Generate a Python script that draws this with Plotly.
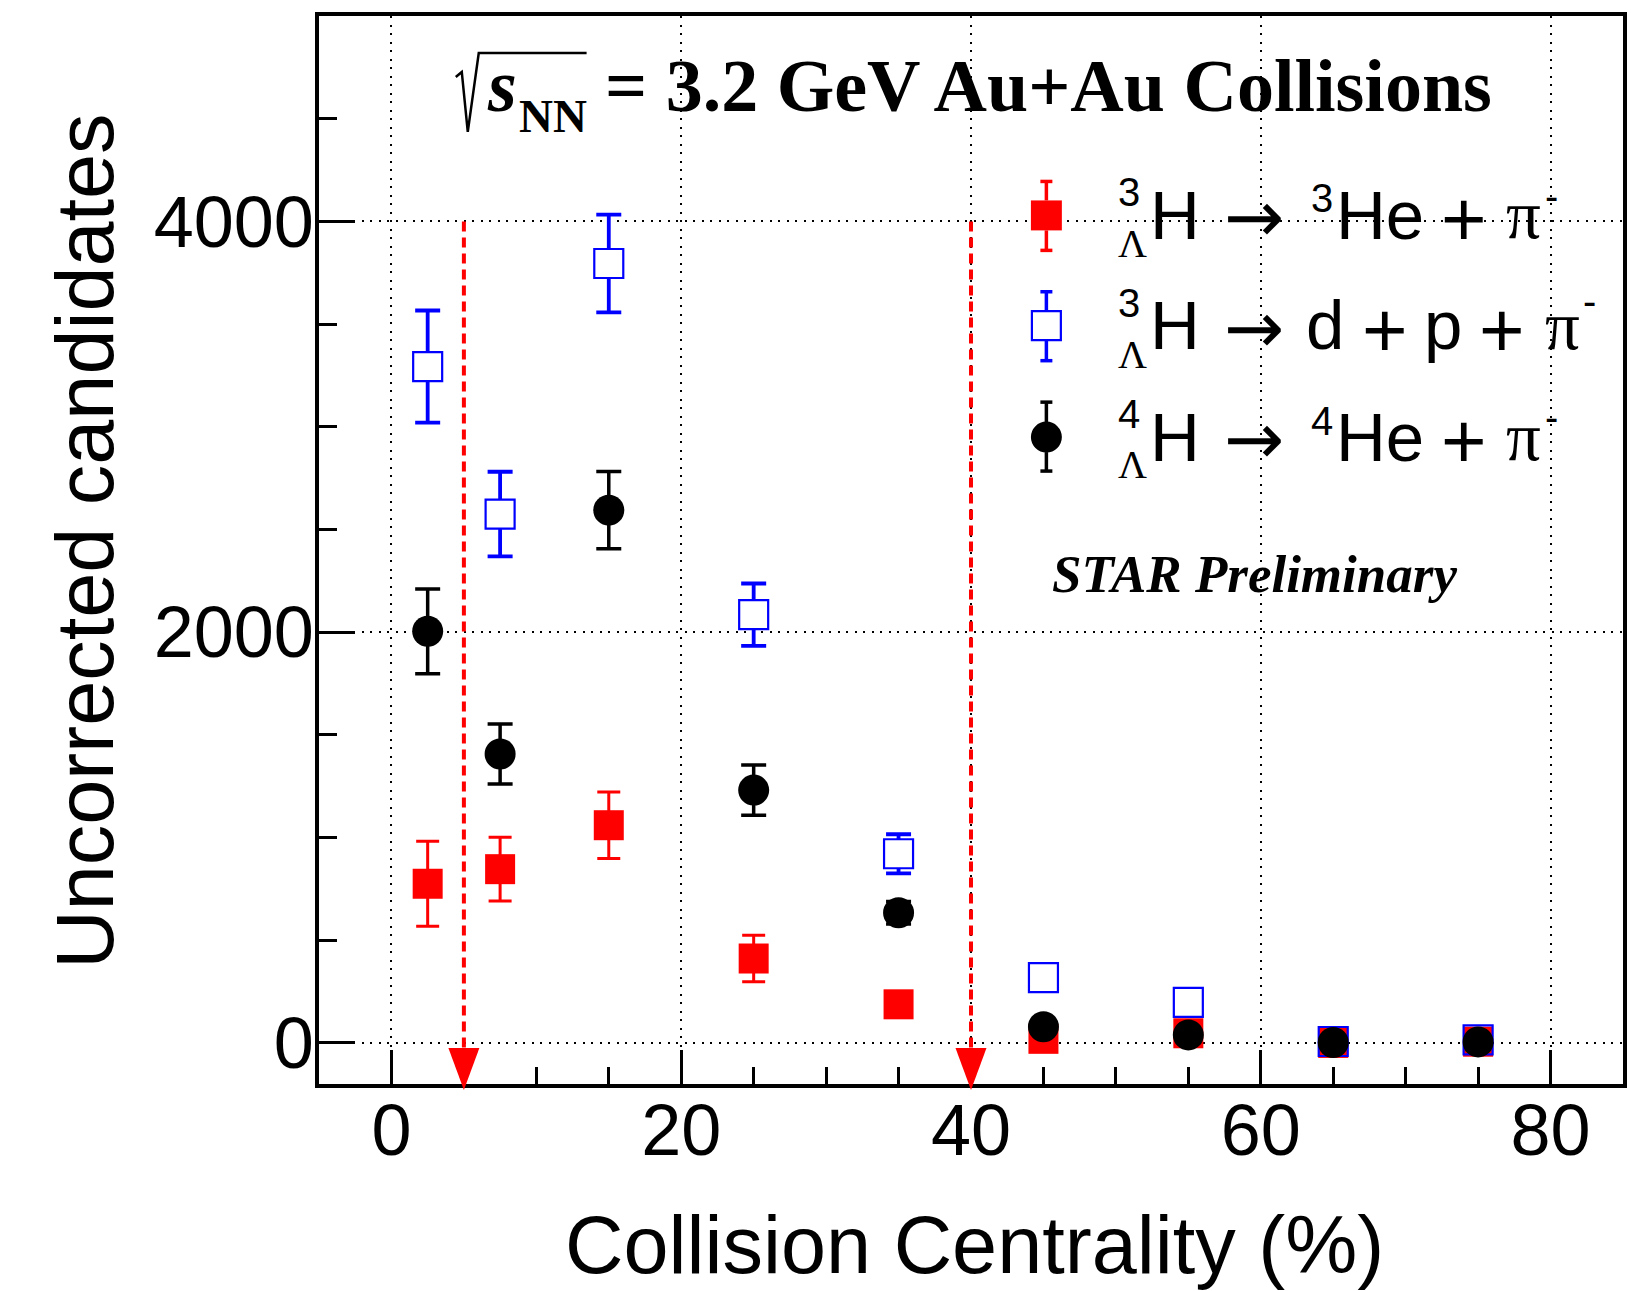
import plotly.graph_objects as go

# ---------------------------------------------------------------- data
centrality = [2.5, 7.5, 15, 25, 35, 45, 55, 65, 75]

# 3ΛH -> 3He + π-
h3l_2body = [775, 846, 1060, 411, 188, 20, 47, 0, 6]
h3l_2body_err = [207, 155, 162, 113, 60, 20, 25, 5, 8]

# 3ΛH -> d + p + π-
h3l_3body = [3293, 2575, 3795, 2085, 921, 318, 197, 7, 15]
h3l_3body_err = [273, 206, 238, 152, 95, 60, 50, 15, 15]

# 4ΛH -> 4He + π-
h4l_2body = [2004, 1407, 2594, 1231, 634, 79, 39, 2, 5]
h4l_2body_err = [206, 146, 188, 122, 55, 35, 25, 8, 10]

# centrality window used in the analysis (marked by red arrows)
cut_edges = [5, 40]
cut_top = 4000

x_tick_vals = [0, 20, 40, 60, 80]
x_tick_text = ["0", "20", "40", "60", "80"]
y_tick_vals = [0, 2000, 4000]
y_tick_text = ["0", "2000", "4000"]

# ---------------------------------------------------------------- style
RED = "#ff0000"
BLUE = "#0000ff"
BLACK = "#000000"
SANS = "Liberation Sans"
SERIF = "Liberation Serif"
ARROW_FONT = "DejaVu Sans"

W, H = 1639, 1291
L, R, T, B = 319, 1625, 15, 1084   # frame edges in pixels


def px(xp):
    return (xp - L) / (R - L)


def py(yp):
    return (B - yp) / (B - T)


def errbar(vals, color, thick=3.5, half=12.5):
    return dict(type="data", array=vals, visible=True, color=color,
                thickness=thick, width=half)


fig = go.Figure()

# white backing for the open squares so the error bars do not cross them
fig.add_trace(go.Scatter(
    x=centrality, y=h3l_3body, mode="markers",
    marker=dict(symbol="square", size=29, color="white", line=dict(width=0)),
    error_y=errbar(h3l_3body_err, BLUE, 3.8, 12.5),
    hoverinfo="skip", showlegend=False))

fig.add_trace(go.Scatter(
    x=centrality, y=h3l_2body, mode="markers",
    marker=dict(symbol="square", size=30, color=RED, line=dict(width=0)),
    error_y=errbar(h3l_2body_err, RED, 3.0, 11.5),
    showlegend=False))

fig.add_trace(go.Scatter(
    x=centrality, y=h3l_3body, mode="markers",
    marker=dict(symbol="square-open", size=29, color=BLUE,
                line=dict(width=2.2, color=BLUE)),
    showlegend=False))

fig.add_trace(go.Scatter(
    x=centrality, y=h4l_2body, mode="markers",
    marker=dict(symbol="circle", size=31, color=BLACK, line=dict(width=0)),
    error_y=errbar(h4l_2body_err, BLACK, 3.5, 12.5),
    showlegend=False))

# ---------------------------------------------------------------- axes
grid = dict(showgrid=True, gridcolor=BLACK, gridwidth=2, griddash="2px,6.5px",
            showline=True, linecolor=BLACK, linewidth=3.5, mirror=True,
            zeroline=False, ticks="inside", tickcolor=BLACK, tickwidth=3,
            tickfont=dict(family=SANS, size=72, color=BLACK))

fig.update_xaxes(range=[-5, 85], tickmode="array", tickvals=x_tick_vals,
                 ticktext=x_tick_text, ticklen=34, ticklabelstandoff=-19,
                 minor=dict(tick0=0, dtick=5, ticks="inside", ticklen=17,
                            tickwidth=3, tickcolor=BLACK, showgrid=False),
                 **grid)
fig.update_yaxes(range=[-200, 5000], tickmode="array", tickvals=y_tick_vals,
                 ticktext=y_tick_text, ticklen=36, ticklabelstandoff=-13,
                 minor=dict(tick0=0, dtick=500, ticks="inside", ticklen=18,
                            tickwidth=3, tickcolor=BLACK, showgrid=False),
                 **grid)

# ---------------------------------------------------------------- cut arrows
for c in cut_edges:
    fig.add_shape(type="line", xref="x", yref="y", x0=c, x1=c,
                  y0=cut_top, y1=-30,
                  line=dict(color=RED, width=4, dash="10px,6px"))
    fig.add_shape(type="path", xref="x", yref="paper",
                  xsizemode="pixel", ysizemode="pixel", xanchor=c, yanchor=0,
                  path="M -15.5,36 L 15.5,36 L 0,-6 Z",
                  fillcolor=RED, line=dict(color=RED, width=0))


# ---------------------------------------------------------------- text
def label(text, xp, yp, size, family=SANS, weight="normal", style="normal",
          xanchor="center", angle=0):
    fig.add_annotation(text=text, x=px(xp), y=py(yp), xref="paper",
                       yref="paper", xanchor=xanchor, yanchor="middle",
                       showarrow=False, textangle=angle, borderpad=0,
                       font=dict(family=family, size=size, color=BLACK,
                                 weight=weight, style=style))


# axis titles
label("Collision Centrality (%)", 976, 1245, 81)
label("Uncorrected candidates", 84, 541, 81, angle=-90)

# energy header with a drawn radical sign
label("s", 502.5, 84.7, 74, SERIF, weight="bold", style="italic")
label("NN", 553, 115, 47, SERIF, weight="bold")
label("= 3.2 GeV Au+Au Collisions", 1049.5, 84.7, 74, SERIF, weight="bold")
rad = [(456, 76), (462, 71), (468, 131), (479, 52), (587, 52)]
fig.add_shape(type="path", xref="paper", yref="paper",
              path="M " + " L ".join(f"{px(a):.5f},{py(b):.5f}" for a, b in rad),
              line=dict(color=BLACK, width=2.5))

label("STAR Preliminary", 1256, 574, 53, SERIF, weight="bold", style="italic")

# ---------------------------------------------------------------- legend
leg_x = 1047.5
row_y = [214.6, 325.0, 436.5]
leg_color = [RED, BLUE, BLACK]
leg_err = [(34, 35), (34, 35), (35, 34)]


def seg(x0, y0, x1, y1, color, width):
    fig.add_shape(type="line", xref="paper", yref="paper",
                  x0=px(x0), y0=py(y0), x1=px(x1), y1=py(y1),
                  line=dict(color=color, width=width))


for i, (yc, col) in enumerate(zip(row_y, leg_color)):
    up, dn = leg_err[i]
    seg(leg_x, yc - up, leg_x, yc - 15, col, 3.5)
    seg(leg_x, yc + 15, leg_x, yc + dn, col, 3.5)
    seg(leg_x - 6, yc - up, leg_x + 6, yc - up, col, 3.5)
    seg(leg_x - 6, yc + dn, leg_x + 6, yc + dn, col, 3.5)
    if i == 0:
        fig.add_shape(type="rect", xref="paper", yref="paper",
                      x0=px(leg_x - 15.5), x1=px(leg_x + 15.5),
                      y0=py(yc + 15), y1=py(yc - 15),
                      fillcolor=RED, line=dict(width=0))
    elif i == 1:
        fig.add_shape(type="rect", xref="paper", yref="paper",
                      x0=px(leg_x - 14.5), x1=px(leg_x + 14.5),
                      y0=py(yc + 14.5), y1=py(yc - 14.5),
                      fillcolor="white", line=dict(color=BLUE, width=2.2))
    else:
        fig.add_shape(type="circle", xref="paper", yref="paper",
                      x0=px(leg_x - 15.5), x1=px(leg_x + 15.5),
                      y0=py(yc + 15.5), y1=py(yc - 15.5),
                      fillcolor=BLACK, line=dict(width=0))

# (text, x centre, vertical offset from row centre, size, family)
PLUS = 78
PLUS_DY = 4
legend_rows = [
    [("3", 1130.5, -23.5, 40, SANS), ("Λ", 1134, 28, 40, SERIF),
     ("H", 1176, 0, 69, SANS), ("→", 1255.5, 2, 72, ARROW_FONT),
     ("3", 1323.5, -17, 40, SANS), ("He", 1381.5, 0, 69, SANS),
     ("+", 1466, PLUS_DY, PLUS, SANS), ("π", 1525.5, 0, 69, SERIF),
     ("-", 1553, -19, 40, SANS)],
    [("3", 1130.5, -23, 40, SANS), ("Λ", 1134, 28.5, 40, SERIF),
     ("H", 1176, 0, 69, SANS), ("→", 1255.5, 2, 72, ARROW_FONT),
     ("d", 1326.3, 0, 69, SANS), ("+", 1386.5, PLUS_DY, PLUS, SANS),
     ("p", 1445, 0, 69, SANS), ("+", 1503.5, PLUS_DY, PLUS, SANS),
     ("π", 1564.5, 0, 69, SERIF), ("-", 1591, -25, 40, SANS)],
    [("4", 1130.5, -23.5, 40, SANS), ("Λ", 1134, 27, 40, SERIF),
     ("H", 1176, 0, 69, SANS), ("→", 1255.5, 2, 72, ARROW_FONT),
     ("4", 1323.5, -16.5, 40, SANS), ("He", 1381.5, 0, 69, SANS),
     ("+", 1466, PLUS_DY, PLUS, SANS), ("π", 1525.5, 0, 69, SERIF),
     ("-", 1553, -20, 40, SANS)],
]
for yc, pieces in zip(row_y, legend_rows):
    for text, xc, dy, size, fam in pieces:
        label(text, xc, yc + dy, size, fam)

fig.update_layout(width=W, height=H, autosize=False,
                  margin=dict(l=L, r=W - R, t=T, b=H - B, pad=0),
                  plot_bgcolor="white", paper_bgcolor="white",
                  showlegend=False)

fig.write_html("out.html")
